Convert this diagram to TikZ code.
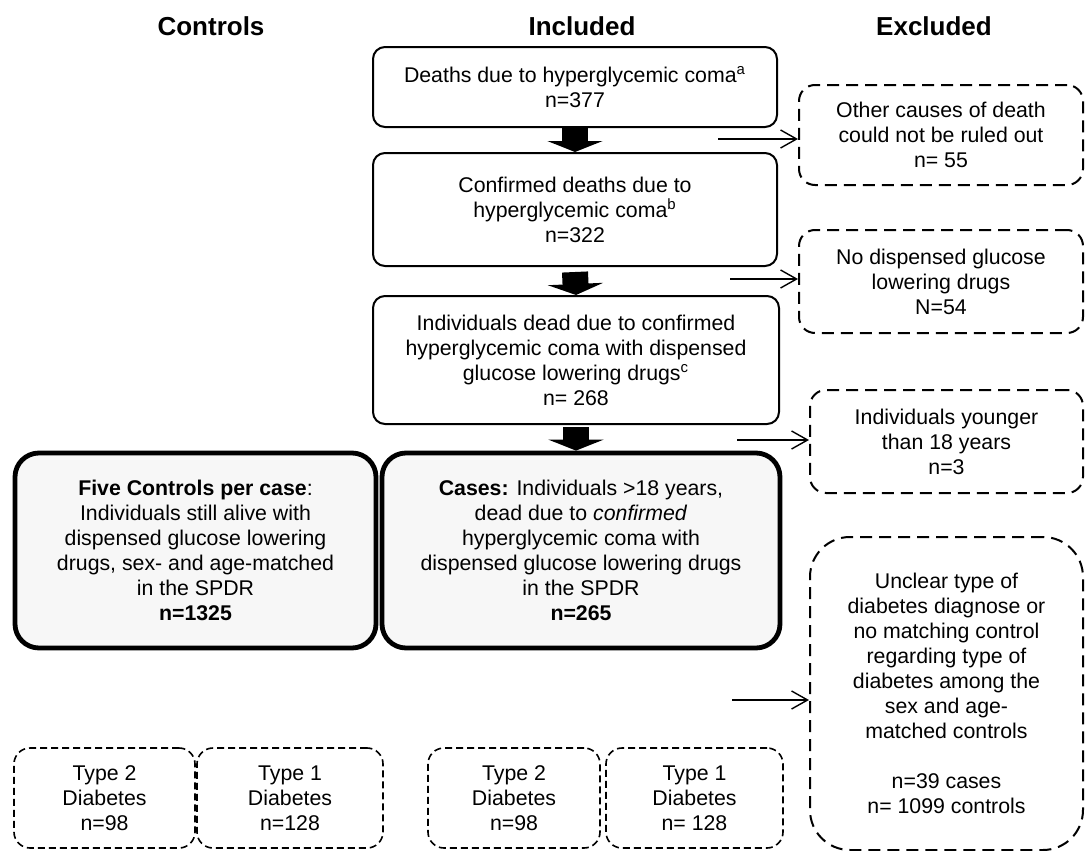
\documentclass[tikz,border=0pt]{standalone}
\usepackage{fontspec}
\setmainfont{Liberation Sans}
\usetikzlibrary{arrows.meta}

\tikzset{
  flowbox/.style={draw, rounded corners=6pt, line width=1pt, align=center, inner sep=0pt,
    font=\fontsize{10.65}{12.5}\selectfont},
  keybox/.style={flowbox, line width=2.4pt, fill=gray!6, rounded corners=12pt},
  exclbox/.style={flowbox, dash pattern=on 6pt off 3.5pt, rounded corners=8pt},
  typebox/.style={flowbox, line width=0.8pt, dash pattern=on 3.5pt off 2pt, rounded corners=8pt},
  heading/.style={font=\fontsize{13}{15}\selectfont\bfseries},
  blockarrow/.style={line width=13pt, -{Triangle[length=5.5pt,width=27.5pt]}},
  thinarrow/.style={line width=0.7pt, -{Straight Barb[length=8pt,width=9pt]}}
}

\begin{document}
\begin{tikzpicture}[x=0.5pt,y=-0.5pt]
\useasboundingbox (0,0) rectangle (1089,851);

% Column headings
\node[heading] (hcontrols) at (211,26) {Controls};
\node[heading] (hincluded) at (582,26) {Included};
\node[heading] (hexcluded) at (934,26) {Excluded};

% Included column
\node[flowbox, minimum width=202pt, minimum height=40pt] (box1) at (575,87)
  {Deaths due to hyperglycemic coma\textsuperscript{a}\\n=377};
\node[flowbox, minimum width=202pt, minimum height=56.5pt] (box2) at (575,209.5)
  {Confirmed deaths due to\\hyperglycemic coma\textsuperscript{b}\\n=322};
\node[flowbox, minimum width=203pt, minimum height=64pt] (box3) at (576,360)
  {Individuals dead due to confirmed\\hyperglycemic coma with dispensed\\glucose lowering drugs\textsuperscript{c}\\n= 268};
\node[keybox, minimum width=199pt, minimum height=97.5pt] (cases) at (581,550.5)
  {\textbf{Cases:} Individuals >18 years,\\dead due to \textit{confirmed}\\hyperglycemic coma with\\dispensed glucose lowering drugs\\in the SPDR\\\textbf{n=265}};

% Controls column
\node[keybox, minimum width=180.5pt, minimum height=97.5pt] (controls) at (195.5,550.5)
  {\textbf{Five Controls per case}:\\Individuals still alive with\\dispensed glucose lowering\\drugs, sex- and age-matched\\in the SPDR\\\textbf{n=1325}};

% Split by type of diabetes
\node[typebox, minimum width=90.5pt, minimum height=50pt] (ctrltwo) at (104.5,798) {Type 2\\Diabetes\\n=98};
\node[typebox, minimum width=93pt, minimum height=50pt] (ctrlone) at (290,798) {Type 1\\Diabetes\\n=128};
\node[typebox, minimum width=86pt, minimum height=50pt] (casetwo) at (514,798) {Type 2\\Diabetes\\n=98};
\node[typebox, minimum width=88.5pt, minimum height=50pt] (caseone) at (694.5,798) {Type 1\\Diabetes\\n= 128};

% Excluded column
\node[exclbox, minimum width=142pt, minimum height=50pt] (excl1) at (941,135)
  {Other causes of death\\could not be ruled out\\n= 55};
\node[exclbox, minimum width=142pt, minimum height=51.5pt] (excl2) at (941,281.5)
  {No dispensed glucose\\lowering drugs\\N=54};
\node[exclbox, minimum width=136.5pt, minimum height=51.5pt] (excl3) at (946.5,441.5)
  {Individuals younger\\than 18 years\\n=3};
\node[exclbox, rounded corners=20pt, minimum width=136.5pt, minimum height=156.5pt] (excl4) at (946.5,693.5)
  {Unclear type of\\diabetes diagnose or\\no matching control\\regarding type of\\diabetes among the\\sex and age-\\matched controls\\[12.5pt]n=39 cases\\n= 1099 controls};

% Flow downwards
\draw[blockarrow] (box1.south) -- (box2.north);
\draw[blockarrow] ([yshift=-2.5pt]box2.south) -- (box3.north);
\draw[blockarrow] ([yshift=-1pt]box3.south) -- (box3.south |- cases.north);

% Exclusions
\coordinate (out1) at (718,139);
\coordinate (out2) at (730,279);
\coordinate (out3) at (737,440);
\coordinate (out4) at (732,700);
\draw[thinarrow] (out1) -- (out1 -| excl1.west);
\draw[thinarrow] (out2) -- (out2 -| excl2.west);
\draw[thinarrow] (out3) -- (out3 -| excl3.west);
\draw[thinarrow] (out4) -- (out4 -| excl4.west);

\end{tikzpicture}
\end{document}
